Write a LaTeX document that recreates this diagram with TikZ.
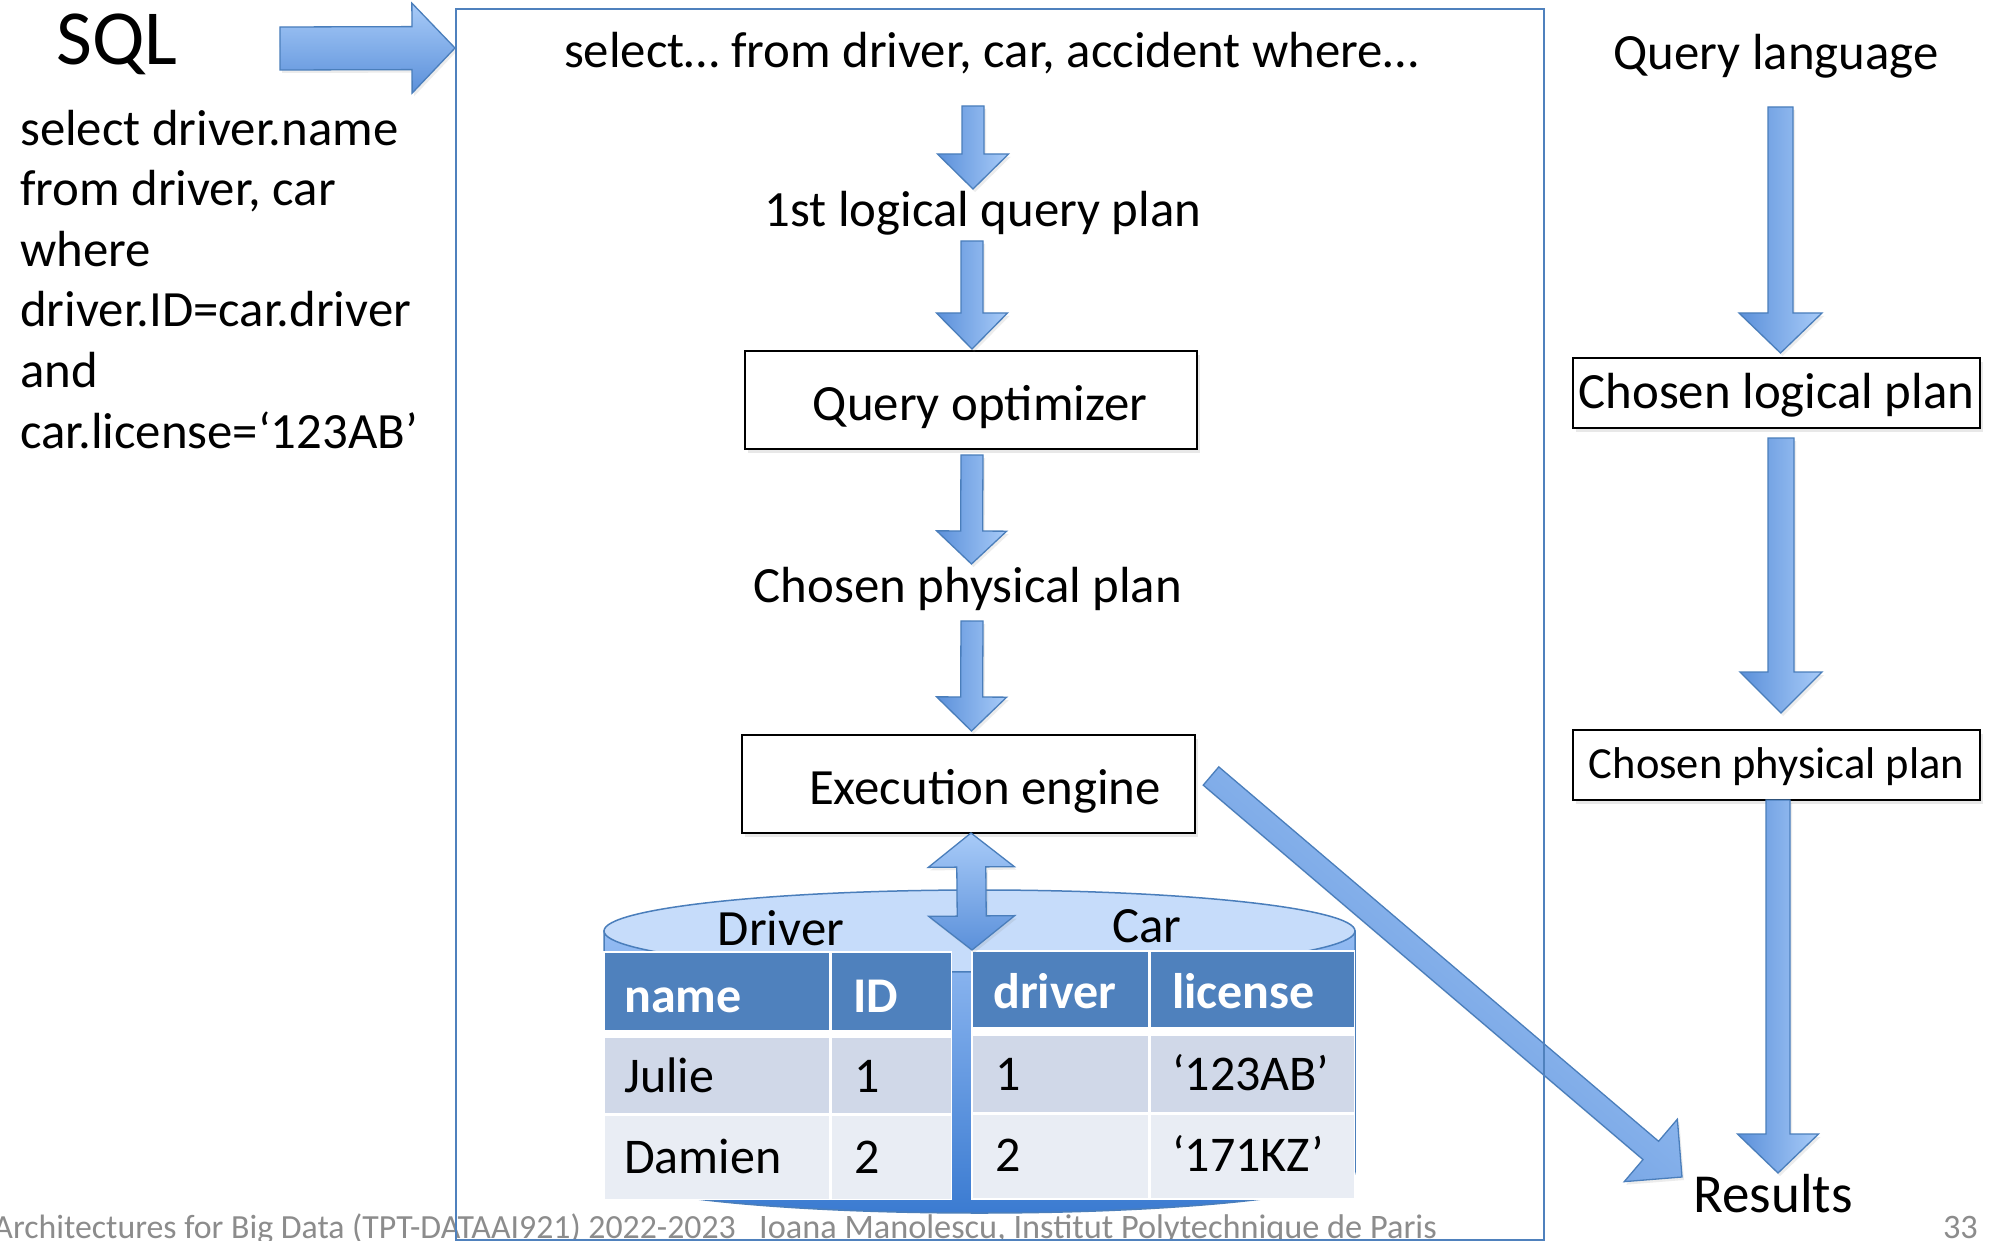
\documentclass[tikz,border=0pt]{standalone}
\usepackage{fontspec}
\setmainfont{Carlito}
\usetikzlibrary{calc,shadows}
\definecolor{frameblue}{HTML}{4F81BD}
\definecolor{arrowline}{HTML}{4A7EBB}
\definecolor{arrowlight}{HTML}{A8CBF8}
\definecolor{arrowdark}{HTML}{5B90DA}
\definecolor{cyltop}{HTML}{C6DCFA}
\definecolor{cylbodytop}{HTML}{94BCF3}
\definecolor{cylbodybot}{HTML}{3B7BD1}
\definecolor{hdr}{HTML}{4F81BD}
\definecolor{rowa}{HTML}{D0D8E8}
\definecolor{rowb}{HTML}{E9EDF4}
\definecolor{footgray}{HTML}{8C8C8C}

% single-headed block arrow: [opts]{start}{tip}{half shaft}{half head}{head length}
\newcommand\blockarrow[6][]{%
  \coordinate (ba-h) at ($(#3)!#6pt!(#2)$);
  \path[arrowbody,#1] ($(#2)!#4pt!90:(#3)$) -- ($(ba-h)!#4pt!-90:(#2)$)
    -- ($(ba-h)!#5pt!-90:(#2)$) -- (#3) -- ($(ba-h)!#5pt!90:(#2)$)
    -- ($(ba-h)!#4pt!90:(#2)$) -- ($(#2)!#4pt!-90:(#3)$) -- cycle;
}
% double-headed block arrow
\newcommand\dblarrow[6][]{%
  \coordinate (da-h1) at ($(#2)!#6pt!(#3)$);
  \coordinate (da-h2) at ($(#3)!#6pt!(#2)$);
  \path[arrowbody,#1] (#2) -- ($(da-h1)!#5pt!90:(#3)$) -- ($(da-h1)!#4pt!90:(#3)$)
    -- ($(da-h2)!#4pt!-90:(#2)$) -- ($(da-h2)!#5pt!-90:(#2)$) -- (#3)
    -- ($(da-h2)!#5pt!90:(#2)$) -- ($(da-h2)!#4pt!90:(#2)$)
    -- ($(da-h1)!#4pt!-90:(#3)$) -- ($(da-h1)!#5pt!-90:(#3)$) -- cycle;
}

\begin{document}
\begin{tikzpicture}[x=1pt,y=-1pt,
  txt/.style={inner sep=0pt, anchor=base, font=\fontsize{50.8pt}{60.6pt}\selectfont},
  foot/.style={inner sep=0pt, text=footgray, font=\fontsize{34.3pt}{41pt}\selectfont},
  box/.style={draw=black, line width=2pt, fill=white, inner sep=0pt,
    text height=40pt, text depth=0pt, font=\fontsize{50.8pt}{60pt}\selectfont,
    drop shadow={shadow xshift=3pt, shadow yshift=-4pt, opacity=0.18}},
  arrowbody/.style={draw=arrowline, line width=1.3pt, left color=arrowdark, right color=arrowlight,
    drop shadow={shadow xshift=2pt, shadow yshift=-3pt, opacity=0.15}},
  hdrtxt/.style={inner sep=0pt, anchor=base west, text=white, font=\fontsize{50pt}{60pt}\selectfont\bfseries},
  celltxt/.style={inner sep=0pt, anchor=base west, font=\fontsize{50pt}{60pt}\selectfont}
]
\useasboundingbox (0,0) rectangle (1989,1241);
\fill[white] (0,0) rectangle (1989,1241);

% footer
\node[foot, anchor=base east, font=\fontsize{33.8pt}{41pt}\selectfont] (foot1) at (736,1238) {Architectures for Big Data (TPT-DATAAI921) 2022-2023};
\node[foot, anchor=base west] (foot2) at (759,1238) {Ioana Manolescu, Institut Polytechnique de Paris};
\node[foot, anchor=base east] (pnum) at (1978,1238) {33};

% left texts
\node[txt, anchor=base west, font=\fontsize{78pt}{92pt}\selectfont] (sql) at (56,65) {SQL};
\node[txt, anchor=base west, align=left] (query) at (20,448) {select driver.name\\from driver, car\\where\\driver.ID=car.driver\\and\\car.license=‘123AB’};

% main column
\node[txt] (sel) at (991,68) {select… from driver, car, accident where…};
\node[txt] (lqp) at (983,227) {1st logical query plan};
\node[box, minimum width=452pt, minimum height=98pt] (qo) at (971,400) {\hspace*{18pt}Query optimizer};
\node[txt] (cpp) at (968,602) {Chosen physical plan};
\node[box, minimum width=453pt, minimum height=98pt] (ee) at (968.5,784) {\hspace*{33pt}Execution engine};

% right column
\node[txt] (ql) at (1776,70) {Query language};
\node[box, minimum width=407pt, minimum height=70pt, text height=30pt] (clp) at (1776.5,393) {Chosen logical plan};
\node[box, minimum width=407pt, minimum height=70pt, text height=26pt, font=\fontsize{44.5pt}{53pt}\selectfont] (cpp2) at (1776.5,765) {Chosen physical plan};
\node[txt, font=\fontsize{55pt}{66pt}\selectfont] (res) at (1773,1212) {Results};

% cylinder
\path[draw=arrowline, line width=1.5pt, top color=cylbodytop, bottom color=cylbodybot]
  (604,931) -- (604,1172) .. controls (604,1194.6) and (772.1,1213) .. (979.5,1213)
  .. controls (1186.9,1213) and (1355,1194.6) .. (1355,1172) -- (1355,931) -- cycle;
\draw[fill=cyltop, draw=arrowline, line width=1.5pt] (979.5,931) ellipse [x radius=375.5, y radius=41];
\node[txt] (lbldriver) at (781,945) {Driver};
\node[txt] (lblcar) at (1147,942) {Car};

% Driver table
\fill[white] (603,951) rectangle (952,1200);
\fill[hdr] (604.5,953) rectangle (829,1030);
\fill[hdr] (832,953) rectangle (951,1030);
\fill[rowa] (604.5,1038) rectangle (829,1113);
\fill[rowa] (832,1038) rectangle (951,1113);
\fill[rowb] (604.5,1116) rectangle (829,1199);
\fill[rowb] (832,1116) rectangle (951,1199);
\node[hdrtxt] (tname) at (624,1012) {name};
\node[hdrtxt] (tid) at (853,1012) {ID};
\node[celltxt] (tjulie) at (624,1092) {Julie};
\node[celltxt] (tone) at (854,1092) {1};
\node[celltxt] (tdamien) at (624,1173) {Damien};
\node[celltxt] (ttwo) at (854,1173) {2};

% Car table
\fill[white] (971,950) rectangle (1355,1199.5);
\fill[hdr] (973,952) rectangle (1147.5,1027);
\fill[hdr] (1150.5,952) rectangle (1353.5,1027);
\fill[rowa] (973,1036) rectangle (1147.5,1112);
\fill[rowa] (1150.5,1036) rectangle (1353.5,1112);
\fill[rowb] (973,1115) rectangle (1147.5,1198);
\fill[rowb] (1150.5,1115) rectangle (1353.5,1198);
\node[hdrtxt] (tdriver) at (993,1008) {driver};
\node[hdrtxt] (tlicense) at (1172,1008) {license};
\node[celltxt] (cone) at (995,1090) {1};
\node[celltxt] (clic1) at (1172,1090) {‘123AB’};
\node[celltxt] (ctwo) at (995,1171) {2};
\node[celltxt] (clic2) at (1172,1171) {‘171KZ’};

% arrow end points
\coordinate (sqlA) at (280,48.5);  \coordinate (sqlB) at (455,48);
\coordinate (a1s) at (973,106);    \coordinate (a1e) at (973,189);
\coordinate (a2s) at (972,241);    \coordinate (a2e) at (972,349);
\coordinate (a3s) at (972,455);    \coordinate (a3e) at (971.5,564);
\coordinate (a4s) at (972,621);    \coordinate (a4e) at (971.5,731);
\coordinate (r1s) at (1780.5,107); \coordinate (r1e) at (1780.5,353);
\coordinate (r2s) at (1781,438);   \coordinate (r2e) at (1781,713);
\coordinate (r3s) at (1778,800);   \coordinate (r3e) at (1778,1173);
\coordinate (dgs) at (1211,776);   \coordinate (dge) at (1682,1177);
\coordinate (dbt) at (971,833);    \coordinate (dbb) at (972,950);

\blockarrow[top color=arrowlight, bottom color=arrowdark]{sqlA}{sqlB}{21.5}{45}{43}
\blockarrow{a1s}{a1e}{11}{35.5}{35}
\blockarrow{a2s}{a2e}{11}{35.5}{36}
\blockarrow{a3s}{a3e}{11}{35}{33}
\blockarrow{a4s}{a4e}{11}{35}{34}
\blockarrow{r1s}{r1e}{12.5}{41.5}{40}
\blockarrow{r2s}{r2e}{13}{41}{41}
\blockarrow{r3s}{r3e}{12}{40.5}{39}
\blockarrow[shading angle=139.4]{dgs}{dge}{12}{41}{41}
\dblarrow[top color=arrowlight, bottom color=arrowdark]{dbt}{dbb}{14.5}{43}{34}

% main frame
\node[draw=frameblue, line width=2pt, minimum width=1088pt, minimum height=1231pt, inner sep=0pt, anchor=north west] (frame) at (455,8) {};
\end{tikzpicture}
\end{document}
